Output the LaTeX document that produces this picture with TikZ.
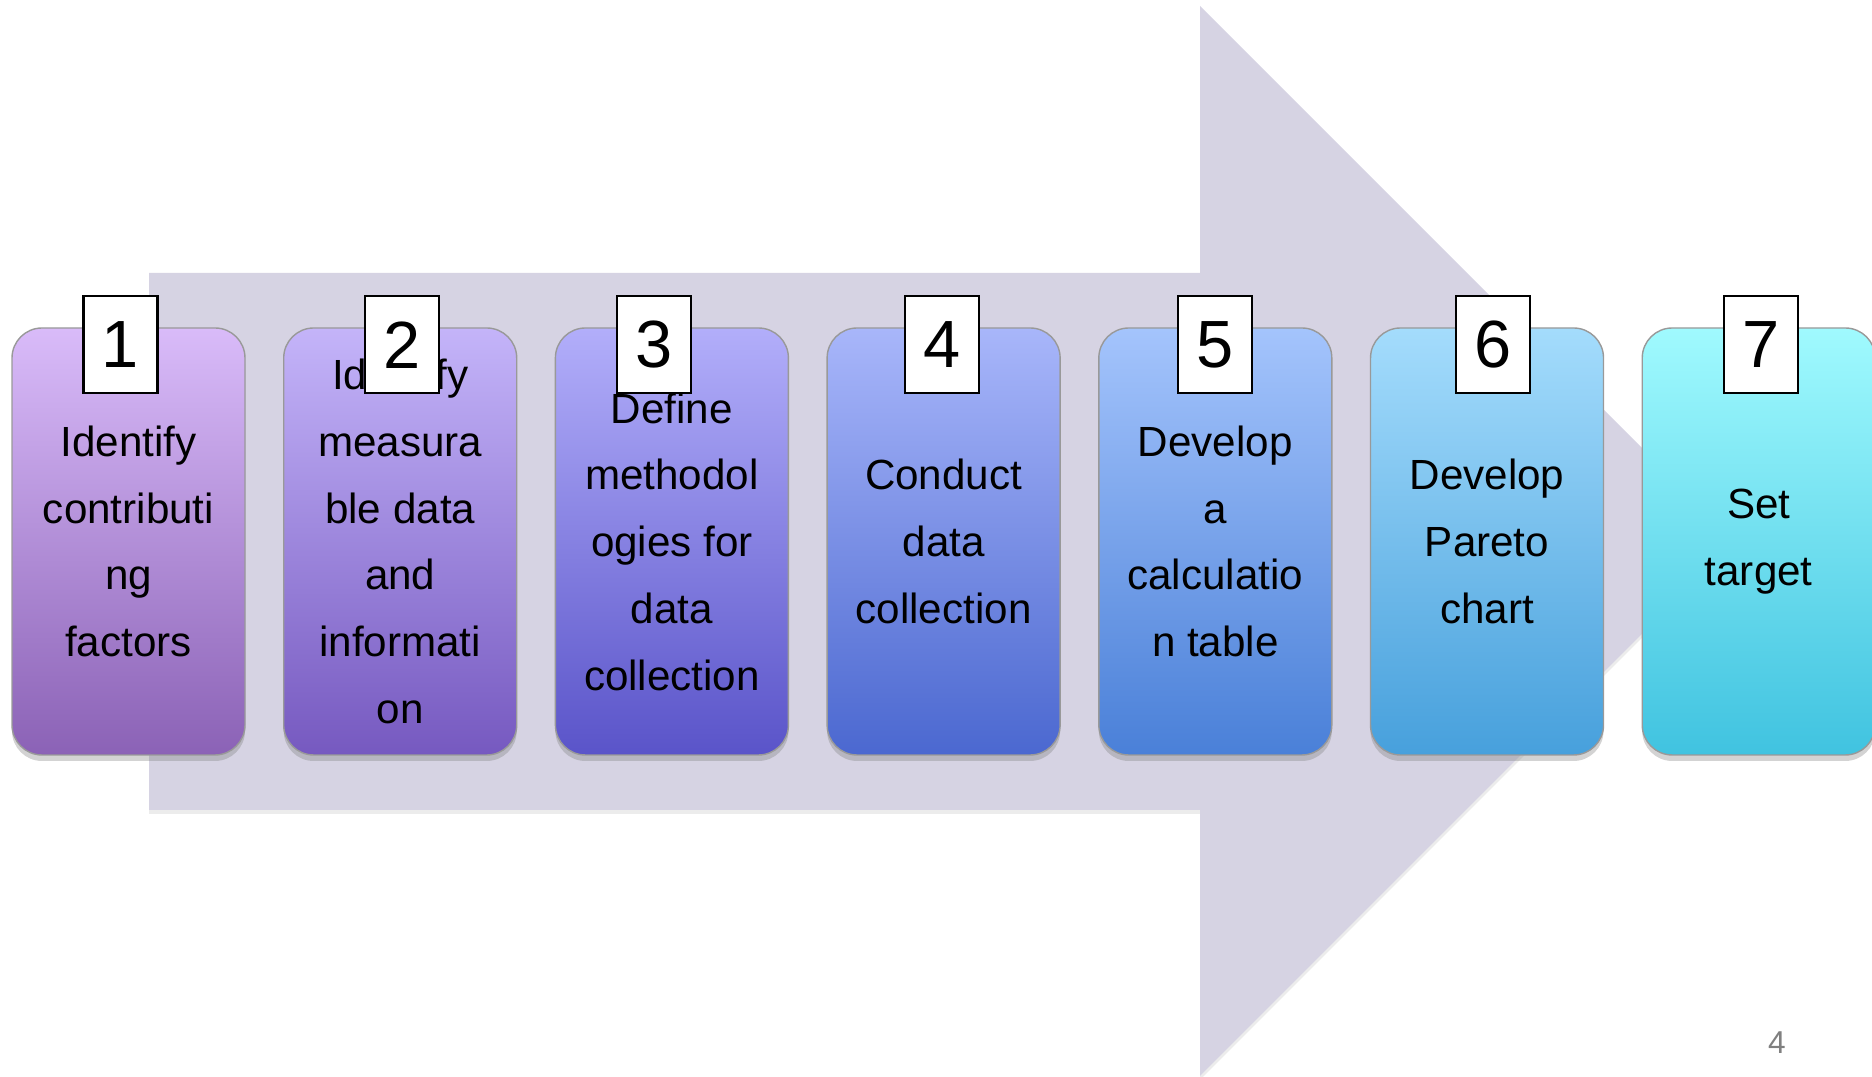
\documentclass[tikz,border=0pt]{standalone}
\usepackage{fontspec}
\setmainfont{Liberation Sans}
\usepackage{tikz}
\usetikzlibrary{positioning,shadows}

\definecolor{arrowgrey}{HTML}{D6D3E3}
\definecolor{topA}{HTML}{D9BBF9}\definecolor{botA}{HTML}{8B62B6}
\definecolor{topB}{HTML}{C4B4F9}\definecolor{botB}{HTML}{7659C0}
\definecolor{topC}{HTML}{B2AEFA}\definecolor{botC}{HTML}{5A54C9}
\definecolor{topD}{HTML}{A8B6FA}\definecolor{botD}{HTML}{4B68D0}
\definecolor{topE}{HTML}{A4C4FC}\definecolor{botE}{HTML}{4A80D8}
\definecolor{topF}{HTML}{A4DCFC}\definecolor{botF}{HTML}{47A0DC}
\definecolor{topG}{HTML}{A0FAFE}\definecolor{botG}{HTML}{40C3E0}

\begin{document}
\begin{tikzpicture}[
  stepbox/.style={rectangle, rounded corners=0.3cm, draw=black!40, line width=0.4pt,
              align=center, font=\fontsize{12pt}{19pt}\selectfont,
              minimum width=2.33cm, minimum height=4.27cm, inner sep=0pt,
              drop shadow={shadow xshift=0pt, shadow yshift=-0.06cm, opacity=0.35}},
  tag/.style={rectangle, draw, line width=0.6pt, fill=white,
              minimum width=0.74cm, minimum height=0.97cm, inner sep=0pt,
              font=\fontsize{19pt}{19pt}\selectfont},
  node distance=0.373cm
]
\useasboundingbox (0,0) rectangle (18.72,10.77);
% big background arrow
\fill[arrowgrey, drop shadow={shadow xshift=0pt, shadow yshift=-0.04cm, opacity=0.15}]
  (1.49,8.04) -- (12.00,8.04) -- (12.00,10.71) -- (17.35,5.36)
  -- (12.00,0.01) -- (12.00,2.67) -- (1.49,2.67) -- cycle;

\node[stepbox, top color=topA, bottom color=botA] (s1) at (1.285,5.355)
  {Identify\\contributi\\ng\\factors};
\node[stepbox, top color=topB, bottom color=botB, right=of s1] (s2)
  {Identify\\measura\\ble data\\and\\informati\\on};
\node[stepbox, top color=topC, bottom color=botC, right=of s2] (s3)
  {Define\\methodol\\ogies for\\data\\collection};
\node[stepbox, top color=topD, bottom color=botD, right=of s3] (s4)
  {Conduct\\data\\collection};
\node[stepbox, top color=topE, bottom color=botE, right=of s4] (s5)
  {Develop\\a\\calculatio\\n table};
\node[stepbox, top color=topF, bottom color=botF, right=of s5] (s6)
  {Develop\\Pareto\\chart};
\node[stepbox, top color=topG, bottom color=botG, right=of s6] (s7)
  {Set\\target};

% number tags on top of the boxes
\node[tag] (n1) at ([xshift=-0.08cm, yshift=-0.175cm]s1.north) {1};
\node[tag] (n2) at ([xshift=0.02cm, yshift=-0.175cm]s2.north) {2};
\node[tag] (n3) at ([xshift=-0.18cm, yshift=-0.175cm]s3.north) {3};
\node[tag] (n4) at ([xshift=-0.02cm, yshift=-0.175cm]s4.north) {4};
\node[tag] (n5) at ([xshift=0.00cm, yshift=-0.175cm]s5.north) {5};
\node[tag] (n6) at ([xshift=0.06cm, yshift=-0.175cm]s6.north) {6};
\node[tag] (n7) at ([xshift=0.02cm, yshift=-0.175cm]s7.north) {7};

\node[text=black!50, font=\fontsize{9pt}{9pt}\selectfont] (page) at (17.77,0.34) {4};
\end{tikzpicture}
\end{document}
